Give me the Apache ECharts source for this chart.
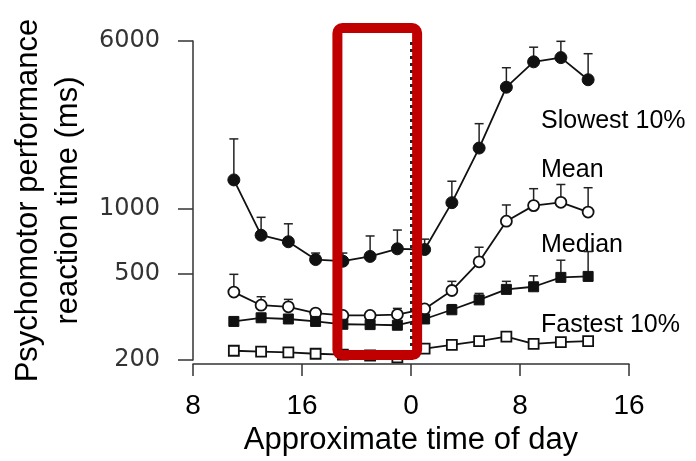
<!DOCTYPE html>
<html><head><meta charset="utf-8">
<script src="https://cdn.jsdelivr.net/npm/echarts@6/dist/echarts.min.js"></script>
<style>html,body{margin:0;padding:0;background:#fff}#c{width:696px;height:461px}</style>
</head><body><div id="c"></div>
<script>
// Hours since start (8 = 08:00 day 1, 24 = midnight, 40 = 16:00 day 2)
const hours = [11, 13, 15, 17, 19, 21, 23, 25, 27, 29, 31, 33, 35, 37];
const slowest    = [1365, 757, 706, 584, 574, 604, 655, 650, 1071, 1917, 3667, 4805, 5026, 3970];
const slowestErr = [2113, 916, 855, 626, 626, 751, 800, 726, 1346, 2486, 4513, 5617, 5980, 5240];
const mean       = [413, 359, 353, 330, 322, 322, 325, 345, 420, 570, 879, 1038, 1075, 969];
const meanErr    = [499, 393, 382, 341, null, null, 347, null, 463, 666, 1045, 1243, 1300, 1256];
const median     = [302, 314, 310, 302, 293, 292, 290, 310, 342, 380, 425, 437, 483, 488];
const medianErr  = [null, null, null, null, null, null, null, null, 361, 407, 463, 491, 580, 636];
const fastest    = [221, 219, 217, 214, 212, 210, 206, 226, 235, 245, 257, 238, 242, 245];
const xTicks = [8, 16, 24, 32, 40];
const yTicks = [200, 500, 1000, 6000];
const highlightHours = [18.6, 24.45];
const midnight = 24;
const seriesNames = ['Slowest 10%', 'Mean', 'Median', 'Fastest 10%'];

const FONT = 'Liberation Sans, Arial, sans-serif';
const INK = '#111';

function pairs(vals) { return hours.map((h, i) => [h, vals[i]]); }

function errSeries(vals, tops) {
  const data = [];
  hours.forEach((h, i) => { if (tops[i] != null) data.push([h, vals[i], tops[i]]); });
  return {
    type: 'custom', data: data, encode: { x: 0, y: [1, 2] }, z: 1, silent: true, clip: false,
    renderItem(params, api) {
      const p0 = api.coord([api.value(0), api.value(1)]);
      const p1 = api.coord([api.value(0), api.value(2)]);
      return { type: 'group', children: [
        { type: 'line', shape: { x1: p0[0], y1: p0[1], x2: p1[0], y2: p1[1] }, style: { stroke: '#222', lineWidth: 1.5 } },
        { type: 'line', shape: { x1: p1[0] - 4.5, y1: p1[1], x2: p1[0] + 4.5, y2: p1[1] }, style: { stroke: '#222', lineWidth: 1.5 } }
      ]};
    }
  };
}

function lineSeries(name, vals, symbol, size, filled) {
  return {
    type: 'line', name: name, data: pairs(vals), symbol: symbol, symbolSize: size, showSymbol: true, z: 3,
    lineStyle: { color: INK, width: 1.8 },
    itemStyle: filled ? { color: INK, borderColor: INK, borderWidth: 1 } : { color: '#fff', borderColor: INK, borderWidth: 1.8 },
    emphasis: { disabled: true }
  };
}

const chart = echarts.init(document.getElementById('c'), null, { renderer: 'canvas' });

const slowLine = lineSeries(seriesNames[0], slowest, 'circle', 12, true);
slowLine.markLine = {
  silent: true, symbol: ['none', 'none'], label: { show: false },
  lineStyle: { type: [3, 4], color: '#222', width: 3 },
  data: [{ xAxis: midnight }]
};

const option = {
  animation: false,
  grid: { left: 192, right: 67, top: 41, bottom: 93, containLabel: false },
  xAxis: {
    type: 'value', min: xTicks[0], max: xTicks[xTicks.length - 1], interval: 8, offset: 4,
    axisLine: { show: true, lineStyle: { color: '#333', width: 1.5 } },
    axisTick: { show: true, length: 12, lineStyle: { color: '#333', width: 1.5 } },
    axisLabel: { formatter: v => String(v % 24), fontSize: 28, margin: 28, color: '#000', fontFamily: FONT },
    splitLine: { show: false },
    name: 'Approximate time of day', nameLocation: 'middle', nameGap: 52,
    nameTextStyle: { fontSize: 31, color: '#000', fontFamily: FONT }
  },
  yAxis: {
    type: 'log', logBase: 10, min: yTicks[0], max: yTicks[yTicks.length - 1],
    axisLine: { show: true, lineStyle: { color: '#333', width: 1.5 } },
    axisTick: { show: true, length: 15, customValues: yTicks, lineStyle: { color: '#333', width: 1.5 } },
    minorTick: { show: false },
    axisLabel: { customValues: yTicks, formatter: v => String(Math.round(v)), margin: 33, fontSize: 24, color: '#333', fontFamily: 'DejaVu Sans, sans-serif' },
    splitLine: { show: false },
    name: 'Psychomotor performance\nreaction time (ms)', nameLocation: 'middle', nameRotate: 90, nameGap: 100,
    nameTextStyle: { fontSize: 31, color: '#000', fontFamily: FONT, lineHeight: 40 }
  },
  series: [
    errSeries(slowest, slowestErr),
    errSeries(mean, meanErr),
    errSeries(median, medianErr),
    slowLine,
    lineSeries(seriesNames[1], mean, 'circle', 11, false),
    lineSeries(seriesNames[2], median, 'rect', 10, true),
    lineSeries(seriesNames[3], fastest, 'rect', 10, false),
    {
      type: 'custom', z: 10, silent: true, clip: false,
      data: [[highlightHours[0], highlightHours[1], 1000]], encode: { x: [0, 1], y: 2 },
      renderItem(params, api) {
        const x1 = api.coord([api.value(0), 1000])[0];
        const x2 = api.coord([api.value(1), 1000])[0];
        const cs = params.coordSys;
        const top = cs.y - 13, bottom = cs.y + cs.height - 5;
        return { type: 'rect', shape: { x: x1, y: top, width: x2 - x1, height: bottom - top, r: 5 },
                 style: { fill: 'none', stroke: '#C00000', lineWidth: 10 } };
      }
    }
  ],
  graphic: [
    { type: 'text', x: 541, y: 121, style: { text: seriesNames[0], fontSize: 25, fontFamily: FONT, fill: '#000', verticalAlign: 'middle' } },
    { type: 'text', x: 541, y: 170, style: { text: seriesNames[1], fontSize: 25, fontFamily: FONT, fill: '#000', verticalAlign: 'middle' } },
    { type: 'text', x: 541, y: 245, style: { text: seriesNames[2], fontSize: 25, fontFamily: FONT, fill: '#000', verticalAlign: 'middle' } },
    { type: 'text', x: 541, y: 325, style: { text: seriesNames[3], fontSize: 25, fontFamily: FONT, fill: '#000', verticalAlign: 'middle' } }
  ]
};
chart.setOption(option);
</script>
</body></html>
